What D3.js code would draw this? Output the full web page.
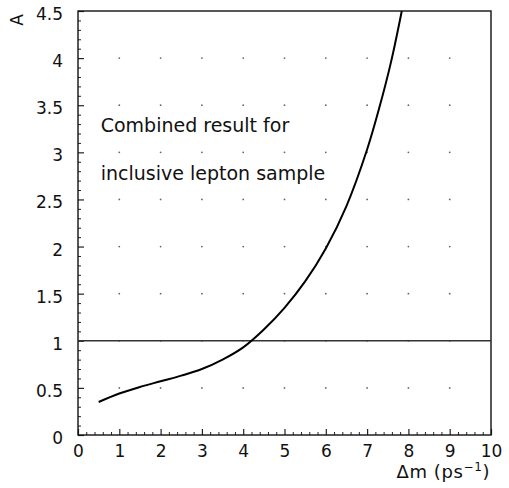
<!DOCTYPE html>
<html>
<head>
<meta charset="utf-8">
<script src="https://cdn.jsdelivr.net/npm/d3@7"></script>
<style>
  body { margin: 0; background: #fff; }
  svg { display: block; }
</style>
</head>
<body>
<svg width="509" height="488"></svg>
<script>
// curve: A versus delta m
var dmValues = [0.5, 1.0, 1.5, 2.0, 2.5, 3.0, 3.5, 4.0, 4.5, 5.0, 5.5, 6.0, 6.5, 7.0, 7.3, 7.58, 7.84];
var aValues  = [0.35, 0.44, 0.51, 0.57, 0.63, 0.70, 0.80, 0.93, 1.12, 1.35, 1.63, 1.98, 2.43, 3.03, 3.48, 3.96, 4.5];

var xTicks = [0, 1, 2, 3, 4, 5, 6, 7, 8, 9, 10];
var yTicks = [0, 0.5, 1, 1.5, 2, 2.5, 3, 3.5, 4, 4.5];
var gridX = [1, 2, 3, 4, 5, 6, 7, 8, 9];
var gridY = [0.5, 1, 1.5, 2, 2.5, 3, 3.5, 4];
var refLevel = 1;
var noteLines = ["Combined result for", "inclusive lepton sample"];

var svg = d3.select("svg");

var xScale = d3.scaleLinear().domain([0, 10]).range([78, 491]);
var yScale = d3.scaleLinear().domain([0, 4.5]).range([435, 11]);

// dotted grid (sparse dots like the scan)
var dots = [];
gridX.forEach(function(gx) {
    gridY.forEach(function(gy) { dots.push([gx, gy]); });
});
svg.selectAll(".gdot")
    .data(dots)
    .enter().append("circle")
    .attr("class", "gdot")
    .attr("cx", function(d) { return xScale(d[0]); })
    .attr("cy", function(d) { return yScale(d[1]); })
    .attr("r", 0.9)
    .attr("fill", "#666");

// minor ticks
var xMinor = d3.range(0, 10.001, 0.2).filter(function(v) { return Math.abs(v - Math.round(v)) > 1e-6; });
var yMinor = d3.range(0, 4.501, 0.1).filter(function(v) { return Math.abs(v * 2 - Math.round(v * 2)) > 1e-6; });

svg.append("g")
    .attr("transform", "translate(0," + yScale(0) + ")")
    .call(d3.axisBottom(xScale).tickValues(xMinor).tickSizeInner(-3).tickSizeOuter(0).tickFormat(""))
    .call(function(g) { g.select(".domain").remove(); g.selectAll("line").attr("stroke", "#222"); });

svg.append("g")
    .attr("transform", "translate(" + xScale(0) + ",0)")
    .call(d3.axisLeft(yScale).tickValues(yMinor).tickSizeInner(-3).tickSizeOuter(0).tickFormat(""))
    .call(function(g) { g.select(".domain").remove(); g.selectAll("line").attr("stroke", "#222"); });

// major ticks + labels
var xAxis = svg.append("g")
    .attr("transform", "translate(0," + yScale(0) + ")")
    .call(d3.axisBottom(xScale).tickValues(xTicks).tickSizeInner(-6).tickSizeOuter(0).tickPadding(10).tickFormat(d3.format("d")));
xAxis.select(".domain").remove();
xAxis.selectAll("line").attr("stroke", "#222").attr("stroke-width", 1.2);
xAxis.selectAll("text")
    .attr("font-family", "DejaVu Sans")
    .attr("font-size", 17)
    .attr("fill", "#111");

var yAxis = svg.append("g")
    .attr("transform", "translate(" + xScale(0) + ",0)")
    .call(d3.axisLeft(yScale).tickValues(yTicks).tickSizeInner(-6).tickSizeOuter(0).tickPadding(15).tickFormat(function(d) { return String(d); }));
yAxis.select(".domain").remove();
yAxis.selectAll("line").attr("stroke", "#222").attr("stroke-width", 1.2);
yAxis.selectAll("text")
    .attr("font-family", "DejaVu Sans")
    .attr("font-size", 17)
    .attr("fill", "#111")
    .attr("dy", "0.5em");

// frame
svg.append("rect")
    .attr("x", xScale(0))
    .attr("y", yScale(4.5))
    .attr("width", xScale(10) - xScale(0))
    .attr("height", yScale(0) - yScale(4.5))
    .attr("fill", "none")
    .attr("stroke", "#111")
    .attr("stroke-width", 1.4);

// reference line A = 1
svg.append("line")
    .attr("x1", xScale(0))
    .attr("x2", xScale(10))
    .attr("y1", yScale(refLevel))
    .attr("y2", yScale(refLevel))
    .attr("stroke", "#333")
    .attr("stroke-width", 1.4);

// the curve
var pts = dmValues.map(function(v, i) { return [v, aValues[i]]; });
var line = d3.line()
    .x(function(d) { return xScale(d[0]); })
    .y(function(d) { return yScale(d[1]); })
    .curve(d3.curveCatmullRom.alpha(0.5));
svg.append("path")
    .datum(pts)
    .attr("d", line)
    .attr("fill", "none")
    .attr("stroke", "#000")
    .attr("stroke-width", 2);

// note text
svg.selectAll(".note")
    .data(noteLines)
    .enter().append("text")
    .attr("class", "note")
    .attr("x", xScale(0.55))
    .attr("y", function(d, i) { return yScale(3.22) + i * 48; })
    .attr("font-family", "DejaVu Sans")
    .attr("font-size", 19)
    .attr("fill", "#111")
    .text(function(d) { return d; });

// axis titles
svg.append("text")
    .attr("transform", "translate(23,20) rotate(-90)")
    .attr("text-anchor", "middle")
    .attr("font-family", "DejaVu Sans")
    .attr("font-size", 17)
    .attr("fill", "#111")
    .text("A");

var xt = svg.append("text")
    .attr("x", 490)
    .attr("y", 478)
    .attr("text-anchor", "end")
    .attr("font-family", "DejaVu Sans")
    .attr("font-size", 18)
    .attr("letter-spacing", 0.6)
    .attr("fill", "#111");
xt.append("tspan").text("\u0394m (ps");
xt.append("tspan").attr("dy", -7).attr("font-size", 12).text("\u22121");
xt.append("tspan").attr("dy", 7).text(")");
</script>
</body>
</html>
